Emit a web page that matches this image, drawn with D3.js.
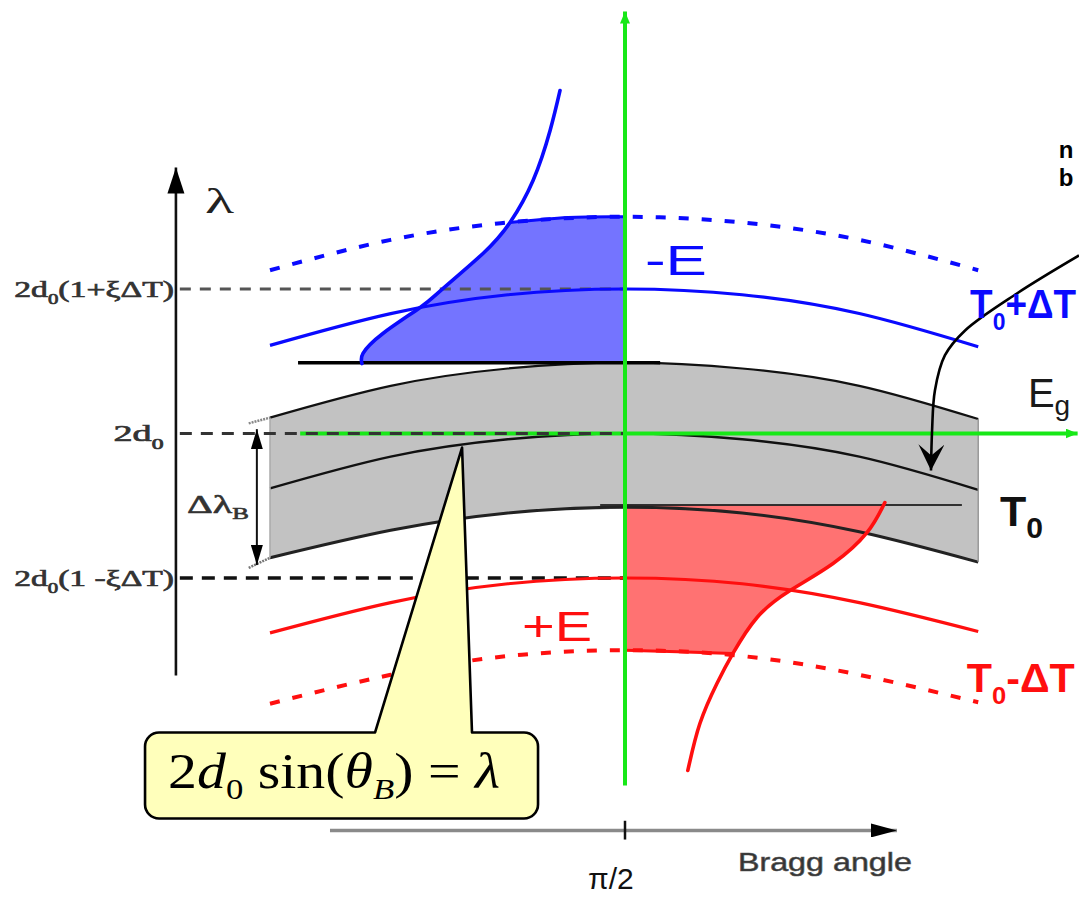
<!DOCTYPE html>
<html><head><meta charset="utf-8">
<script src="https://cdn.jsdelivr.net/npm/d3@7"></script>
<style>body{margin:0;background:#fff;overflow:hidden}</style>
</head><body>
<svg id="chart" width="1079" height="897"></svg>
<script>
// ---------- data (angle offset from pi/2, wavelength in units of xi*dT around 2d0) ----------
const anglePts   = [-1, -0.66, -0.33, 0, 0.33, 0.66, 0.995];
const bandTop    = [0.11, 0.33, 0.45, 0.49, 0.45, 0.33, 0.10];
const bandMid    = [-0.38, -0.16, -0.04, 0, -0.04, -0.16, -0.39];
const bandBot    = [-0.86, -0.67, -0.55, -0.51, -0.55, -0.68, -0.89];
const blueSolid  = [0.61, 0.83, 0.96, 1.0, 0.96, 0.83, 0.60];
const blueDashed = [1.13, 1.34, 1.46, 1.5, 1.46, 1.34, 1.13];
const redSolid   = [-1.38, -1.17, -1.04, -1.0, -1.04, -1.17, -1.37];
const redDashed  = [-1.87, -1.67, -1.54, -1.5, -1.54, -1.67, -1.86];
const blueEdgeU  = [-0.741, -0.738, -0.682, -0.577, -0.513, -0.400, -0.324, -0.259, -0.211, -0.183];
const blueEdgeV  = [0.484, 0.554, 0.692, 0.872, 1.003, 1.246, 1.460, 1.751, 2.097, 2.374];
const redEdgeU   = [0.732, 0.682, 0.586, 0.465, 0.372, 0.304, 0.259, 0.211, 0.177];
const redEdgeV   = [-0.478, -0.685, -0.900, -1.087, -1.273, -1.522, -1.730, -2.007, -2.332];
const blueTopU   = [-0.324, -0.16, 0];
const blueTopV   = [1.46, 1.495, 1.5];
const redBotU    = [0.304, 0.15, 0];
const redBotV    = [-1.522, -1.51, -1.5];
const arrowU     = [1.279, 1.104, 0.958, 0.901, 0.873, 0.865, 0.862];
const arrowV     = [1.232, 0.969, 0.713, 0.540, 0.298, 0.021, -0.256];
const refLevels  = [1, 0, -1];
const refLabels  = [
  [{t:"2d"},{t:"0",sub:true},{t:"(1+ξΔT)"}],
  [{t:"2d"},{t:"0",sub:true}],
  [{t:"2d"},{t:"0",sub:true},{t:"(1 -ξΔT)"}]
];
const xTickLabel = "π/2";
const xTitle = "Bragg angle";
const yTitle = "λ";

// ---------- setup ----------
const svg = d3.select("#chart");
const x = d3.scaleLinear().domain([-1, 1]).range([270, 980]);
const y = d3.scaleLinear().domain([-1, 1]).range([578, 289]);
const GREEN = "#18e818", BLUE = "#0a0aff", RED = "#ff0f0f";
const SANS = "'Liberation Sans', Arial, sans-serif";
const SERIF = "'Liberation Serif', 'Times New Roman', serif";

const defs = svg.append("defs");
function marker(id, path, vb, w, h, color) {
  defs.append("marker").attr("id", id).attr("viewBox", vb)
    .attr("markerWidth", w).attr("markerHeight", h)
    .attr("markerUnits", "userSpaceOnUse").attr("refX", 0).attr("refY", 0)
    .attr("orient", "auto-start-reverse")
    .append("path").attr("d", path).attr("fill", color);
}
marker("yArrow", "M0,0L-26,-8.5L-26,8.5Z", "-26 -9 27 18", 27, 18, "#000");
marker("xArrow", "M0,0L-26,-7L-26,7Z", "-26 -7 27 14", 27, 14, "#000");
marker("gArrow", "M0,0L-12,-5L-12,5Z", "-12 -5 13 10", 13, 10, GREEN);
marker("dArrow", "M0,0L-20,-6L-20,6Z", "-20 -6 21 12", 21, 12, "#000");
marker("cArrow", "M0,0L-26,-13L-15,0L-26,13Z", "-26 -13 27 26", 27, 26, "#000");

const zip = (us, vs) => us.map((u, i) => [u, vs[i]]);
const line = d3.line().x(d => x(d[0])).y(d => y(d[1])).curve(d3.curveNatural);
const straight = d3.line().x(d => x(d[0])).y(d => y(d[1]));
const area = d3.area().x(d => x(d.u)).y0(d => y(d.b)).y1(d => y(d.t)).curve(d3.curveNatural);

// ---------- gray band ----------
svg.append("path")
  .attr("d", area(anglePts.map((u, i) => ({u, t: bandTop[i], b: bandBot[i]}))))
  .attr("fill", "#c2c2c2");

// ---------- blue & red filled regions ----------
const blueEdge = zip(blueEdgeU, blueEdgeV);
const redEdge = zip(redEdgeU, redEdgeV);
const blueFill = line(blueEdge.slice(0, 7)) + line(zip(blueTopU, blueTopV)).replace(/^M/, "L")
  + "L" + x(0) + "," + y(bandTop[3]) + "L" + x(blueEdgeU[0]) + "," + y(bandTop[3]) + "Z";
svg.append("path").attr("d", blueFill).attr("fill", "#7474ff");
const redFill = "M" + x(0) + "," + y(-0.5) + "L" + x(redEdgeU[0]) + "," + y(-0.5)
  + line(redEdge.slice(0, 6)).replace(/^M/, "L") + line(zip(redBotU, redBotV)).replace(/^M/, "L") + "Z";
svg.append("path").attr("d", redFill).attr("fill", "#ff7272");

// ---------- band edges ----------
svg.append("path").attr("d", line(zip(anglePts, bandTop))).attr("fill", "none").attr("stroke", "#111").attr("stroke-width", 2.2);
svg.append("path").attr("d", line(zip(anglePts, bandMid))).attr("fill", "none").attr("stroke", "#111").attr("stroke-width", 2.5);
svg.append("path").attr("d", line(zip(anglePts, bandBot))).attr("fill", "none").attr("stroke", "#222").attr("stroke-width", 3);
svg.append("path").attr("d", straight([[anglePts[6], bandTop[6]], [anglePts[6], bandBot[6]]])).attr("stroke", "#999").attr("stroke-width", 1.5);
svg.append("path").attr("d", straight([[anglePts[0], bandTop[0]], [anglePts[0], bandBot[0]]])).attr("stroke", "#aaa").attr("stroke-width", 1.5);
svg.append("path").attr("d", straight([[-1.06, 0.07], [anglePts[0], bandTop[0]]])).attr("stroke", "#888").attr("stroke-width", 2.5).attr("stroke-dasharray", "2,1");
svg.append("path").attr("d", straight([[-1.06, -0.93], [anglePts[0], bandBot[0]]])).attr("stroke", "#777").attr("stroke-width", 2.5).attr("stroke-dasharray", "2,1");

// horizontal black level lines
svg.append("path").attr("d", straight([[-0.921, 0.49], [0.099, 0.49]])).attr("stroke", "#000").attr("stroke-width", 3.5);
svg.append("path").attr("d", straight([[-0.07, -0.495], [0.949, -0.495]])).attr("stroke", "#000").attr("stroke-width", 1.6);

// ---------- green axes ----------
svg.append("path").attr("d", straight([[-0.915, 0], [1.275, 0]])).attr("stroke", GREEN).attr("stroke-width", 4).attr("marker-end", "url(#gArrow)");

// ---------- reference dashed lines ----------
const refStyle = [{c: "#555", w: 2.8, d: "11,9"}, {c: "#333", w: 2.8, d: "12,9"}, {c: "#111", w: 3.6, d: "13,9"}];
refLevels.forEach((lv, i) => {
  svg.append("path").attr("d", straight([[-1.254, lv], [0, lv]]))
    .attr("stroke", refStyle[i].c).attr("stroke-width", refStyle[i].w).attr("stroke-dasharray", refStyle[i].d);
});

// ---------- coloured curves ----------
svg.append("path").attr("d", line(zip(anglePts, blueDashed))).attr("fill", "none").attr("stroke", BLUE).attr("stroke-width", 4).attr("stroke-dasharray", "10,13");
svg.append("path").attr("d", line(zip(blueTopU, blueTopV))).attr("fill", "none").attr("stroke", BLUE).attr("stroke-width", 3);
svg.append("path").attr("d", line(zip(anglePts, blueSolid))).attr("fill", "none").attr("stroke", BLUE).attr("stroke-width", 3.2);
svg.append("path").attr("d", line(blueEdge)).attr("fill", "none").attr("stroke", BLUE).attr("stroke-width", 3.6).attr("stroke-linecap", "round");

svg.append("path").attr("d", line(zip(anglePts, redDashed))).attr("fill", "none").attr("stroke", RED).attr("stroke-width", 4).attr("stroke-dasharray", "10,13");
svg.append("path").attr("d", line(zip(redBotU, redBotV))).attr("fill", "none").attr("stroke", RED).attr("stroke-width", 3);
svg.append("path").attr("d", line(zip(anglePts, redSolid))).attr("fill", "none").attr("stroke", RED).attr("stroke-width", 3.2);
svg.append("path").attr("d", line(redEdge)).attr("fill", "none").attr("stroke", RED).attr("stroke-width", 3.6).attr("stroke-linecap", "round");

// green vertical (pi/2)
svg.append("path").attr("d", straight([[0, -2.436], [0, 2.92]])).attr("stroke", GREEN).attr("stroke-width", 4).attr("marker-end", "url(#gArrow)");

// ---------- black axes ----------
svg.append("path").attr("d", straight([[-1.265, -1.675], [-1.265, 1.84]])).attr("stroke", "#111").attr("stroke-width", 2.6).attr("marker-end", "url(#yArrow)");
svg.append("path").attr("d", straight([[-0.831, -2.747], [0.766, -2.747]])).attr("stroke", "#8a8a8a").attr("stroke-width", 3.5).attr("marker-end", "url(#xArrow)");
svg.append("path").attr("d", straight([[0, -2.68], [0, -2.81]])).attr("stroke", "#111").attr("stroke-width", 2.5);

// delta lambda double arrow
svg.append("path").attr("d", straight([[-1.037, 0.03], [-1.037, -0.91]])).attr("stroke", "#111").attr("stroke-width", 2)
  .attr("marker-start", "url(#dArrow)").attr("marker-end", "url(#dArrow)");

// curved arrow
svg.append("path").attr("d", d3.line().x(d => x(d[0])).y(d => y(d[1])).curve(d3.curveCatmullRom)(zip(arrowU, arrowV)))
  .attr("fill", "none").attr("stroke", "#000").attr("stroke-width", 2.6).attr("marker-end", "url(#cArrow)");

// ---------- callout ----------
(function () {
  const L = x(-1.352), R = x(-0.245), T = y(-2.069), B = y(-2.664), r = 14;
  const p = d3.path();
  p.moveTo(L + r, T);
  p.lineTo(x(-0.704), T);
  p.lineTo(x(-0.459), y(-0.097));
  p.lineTo(x(-0.431), T);
  p.lineTo(R - r, T); p.arcTo(R, T, R, T + r, r);
  p.lineTo(R, B - r); p.arcTo(R, B, R - r, B, r);
  p.lineTo(L + r, B); p.arcTo(L, B, L, B - r, r);
  p.lineTo(L, T + r); p.arcTo(L, T, L + r, T, r);
  p.closePath();
  svg.append("path").attr("d", p.toString()).attr("fill", "#ffffbb").attr("stroke", "#000").attr("stroke-width", 2.6).attr("stroke-linejoin", "round");
})();

// ---------- text helper ----------
function label(parts, u, v, o) {
  const size = o.size, sub = o.subScale || 0.62, sh = size * (o.subShift || 0.28);
  const g = svg.append("g");
  const t = g.append("text").attr("x", 0).attr("y", 0)
    .attr("font-family", o.family || SANS).attr("font-size", size)
    .attr("font-weight", o.weight || "normal").attr("fill", o.fill || "#000");
  if (o.stroke) t.attr("stroke", o.stroke).attr("stroke-width", o.strokeWidth || 0.6);
  let prevSub = false;
  parts.forEach(p => {
    const ts = t.append("tspan").text(p.t);
    if (p.it) ts.attr("font-style", "italic");
    if (p.sub) { ts.attr("font-size", size * sub).attr("dy", prevSub ? 0 : sh); }
    else if (prevSub) ts.attr("dy", -sh);
    prevSub = !!p.sub;
  });
  const bb = t.node().getBBox();
  const sx = o.width ? o.width / bb.width : 1;
  const px = x(u), py = y(v);
  const left = o.anchor === "end" ? px - bb.width * sx : (o.anchor === "middle" ? px - bb.width * sx / 2 : px);
  t.attr("transform", `translate(${left - bb.x * sx},${py}) scale(${sx},1)`);
  return t;
}

// axis labels
label([{t: yTitle}], -1.183, 1.525, {size: 36, family: SERIF, fill: "#222", width: 30});
refLabels.forEach((parts, i) => {
  const widths = [160, 50, 160];
  label(parts, -1.27 + (i === 1 ? -0.03 : 0), refLevels[i] - 0.055, {size: 24, family: SERIF, fill: "#333", stroke: "#333", strokeWidth: 0.7, anchor: "end", width: widths[i], subShift: 0.3});
});
label([{t: "Δλ"}, {t: "B", sub: true}], -1.234, -0.547, {size: 26, family: SERIF, fill: "#333", stroke: "#333", strokeWidth: 0.6, width: 62, subShift: 0.25});
label([{t: xTickLabel}], -0.104, -3.15, {size: 30, family: SANS, fill: "#111"});
label([{t: xTitle}], 0.318, -3.031, {size: 25, family: SANS, fill: "#333", stroke: "#555", strokeWidth: 0.6, width: 174});

// curve labels
label([{t: "-E"}], 0.056, 1.10, {size: 42, family: SANS, fill: BLUE, width: 62});
label([{t: "+E"}], -0.290, -1.433, {size: 42, family: SANS, fill: RED, width: 70});
label([{t: "T"}, {t: "0", sub: true}, {t: "+ΔT"}], 0.972, 0.796, {size: 40, family: SANS, weight: "bold", fill: BLUE, width: 106, subShift: 0.3});
label([{t: "T"}, {t: "0", sub: true}, {t: "-ΔT"}], 0.963, -1.792, {size: 40, family: SANS, weight: "bold", fill: RED, width: 108, subShift: 0.3});
label([{t: "E"}, {t: "g", sub: true}], 1.135, 0.18, {size: 40, family: SANS, fill: "#1a1a1a", subShift: 0.2, subScale: 0.7});
label([{t: "T"}, {t: "0", sub: true}], 1.056, -0.637, {size: 43, family: SANS, weight: "bold", fill: "#111", subShift: 0.3, subScale: 0.7});
label([{t: "n"}], 1.222, 1.91, {size: 24, family: SANS, weight: "bold", fill: "#000"});
label([{t: "b"}], 1.222, 1.715, {size: 24, family: SANS, weight: "bold", fill: "#000"});

// callout formula
label([{t: "2"}, {t: "d", it: true}, {t: "0", sub: true}, {t: " sin("}, {t: "θ", it: true}, {t: "B", it: true, sub: true}, {t: ") = "}, {t: "λ", it: true}],
  -1.287, -2.45, {size: 50, family: SERIF, fill: "#000", width: 332, subShift: 0.22, subScale: 0.6});
</script>
</body></html>
